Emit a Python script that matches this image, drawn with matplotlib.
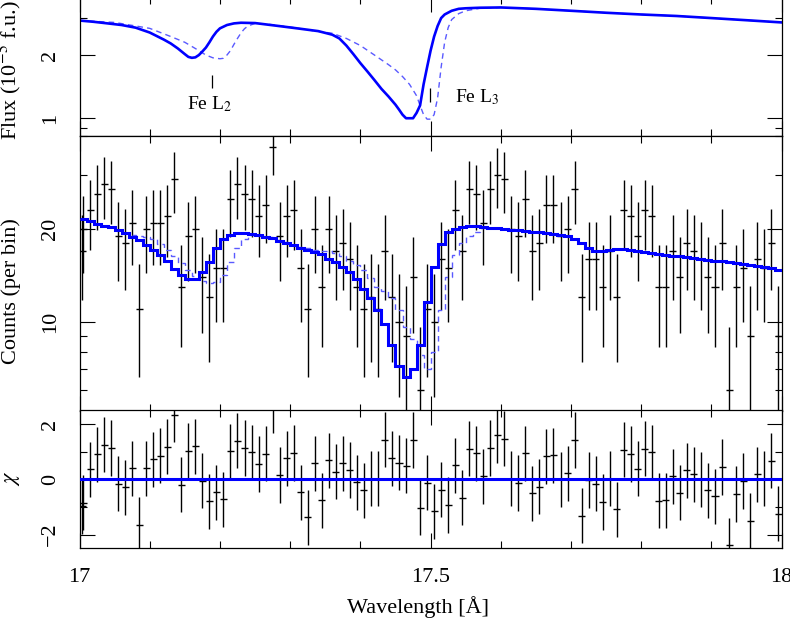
import numpy as np
import matplotlib.pyplot as plt
from matplotlib.ticker import FixedLocator, FixedFormatter, NullFormatter, MultipleLocator

plt.rcParams['font.family'] = ['Liberation Serif', 'DejaVu Serif']
plt.rcParams['mathtext.fontset'] = 'stix'
plt.rcParams['font.size'] = 16

# binning of the spectrum (0.01 A bins from 17 to 18 A)
bin_lo = 17.0
bin_w = 0.01
n_bins = 100

# observed counts per bin
counts = [20, 23, 26, 28, 27, 19, 18, 21, 11, 20,
          21, 21, 22, 29, 13, 19, 20, 14, 12, 15,
          15, 25, 28, 26, 25, 22, 24, 37, 19, 22,
          23, 15, 11, 20, 13, 20, 17, 18, 16, 13,
          11, 12, 11, 17, 12, 10, 9, 14, 6, 11,
          10, 16, 15, 23, 17, 27, 26, 21, 27, 30,
          29, 20, 19, 25, 17, 18, 24, 24, 19, 20,
          27, 12, 16, 16, 13, 17, 12, 23, 22, 19,
          23, 22, 13, 13, 17, 14, 18, 17, 16, 14,
          13, 18, 6, 13, 15, 9, 16, 15, 18, 9]
count_err = [5.6, 5.9, 6.2, 6.4, 6.3, 5.4, 5.3, 5.7, 4.4, 5.6,
             5.7, 5.7, 5.8, 6.5, 4.7, 5.4, 5.6, 4.8, 4.6, 5.0,
             5.0, 6.1, 6.4, 6.2, 6.1, 5.8, 6.0, 7.1, 5.4, 5.8,
             5.9, 5.0, 4.4, 5.6, 4.7, 5.6, 5.2, 5.3, 5.1, 4.7,
             4.4, 4.6, 4.4, 5.2, 4.6, 4.3, 4.1, 4.8, 3.6, 4.4,
             4.3, 5.1, 5.0, 5.9, 5.2, 6.3, 6.2, 5.7, 6.3, 6.6,
             6.5, 5.6, 5.4, 6.1, 5.2, 5.3, 6.0, 6.0, 5.4, 5.6,
             6.3, 4.6, 5.1, 5.1, 4.7, 5.2, 4.6, 5.9, 5.8, 5.4,
             5.9, 5.8, 4.7, 4.7, 5.2, 4.8, 5.3, 5.2, 5.1, 4.8,
             4.7, 5.3, 3.6, 4.7, 5.0, 4.1, 5.1, 5.0, 5.3, 4.1]
# second data set overlapping the first bin
extra_lam = [17.004]
extra_counts = [17]
extra_err = [5.2]

# folded models (counts per bin)
model_fit = [21.5, 21.2, 20.8, 20.5, 20.3, 19.9, 19.4, 18.9, 18.4, 17.8,
             17.1, 16.5, 15.7, 14.8, 14.2, 13.8, 13.8, 14.5, 15.6, 17.3,
             18.5, 19.2, 19.4, 19.4, 19.3, 19.1, 18.9, 18.7, 18.3, 18.0,
             17.7, 17.4, 17.1, 16.9, 16.6, 16.0, 15.6, 15.1, 14.5, 13.8,
             12.8, 11.9, 10.9, 9.8, 8.4, 7.2, 6.6, 7.0, 8.4, 11.6,
             15.1, 17.9, 19.5, 20.0, 20.3, 20.4, 20.4, 20.3, 20.2, 20.1,
             20.0, 19.9, 19.8, 19.7, 19.6, 19.5, 19.4, 19.3, 19.2, 19.0,
             18.5, 18.0, 17.3, 16.95, 16.95, 17.1, 17.2, 17.2, 17.1, 17.0,
             16.8, 16.7, 16.6, 16.5, 16.4, 16.3, 16.2, 16.1, 16.0, 15.9,
             15.8, 15.7, 15.6, 15.5, 15.4, 15.3, 15.2, 15.1, 14.9, 14.7]
model_alt = [21.5, 21.2, 20.8, 20.5, 20.3, 19.9, 19.4, 19.2, 19.0, 18.9,
             18.5, 17.9, 17.1, 16.3, 15.5, 14.7, 14.1, 13.6, 13.4, 13.5,
             14.2, 15.6, 17.3, 18.6, 19.2, 19.2, 19.0, 18.8, 18.4, 18.1,
             17.8, 17.5, 17.3, 17.1, 17.0, 17.0, 16.7, 16.4, 15.8, 15.3,
             14.7, 13.9, 13.0, 12.6, 11.9, 10.9, 9.6, 8.8, 7.8, 7.0,
             8.0, 10.9, 14.0, 16.5, 18.0, 19.0, 19.5, 20.2, 20.2, 20.1,
             20.0, 19.9, 19.8, 19.7, 19.6, 19.5, 19.4, 19.3, 19.2, 19.0,
             18.5, 18.0, 17.3, 16.95, 16.95, 17.1, 17.2, 17.2, 17.1, 17.0,
             16.8, 16.7, 16.6, 16.5, 16.4, 16.3, 16.2, 16.1, 16.0, 15.9,
             15.8, 15.7, 15.6, 15.5, 15.4, 15.3, 15.2, 15.1, 14.9, 14.7]

# residuals
chi = [-0.85, 0.36, 0.91, 1.26, 1.14, -0.16, -0.28, 0.40, -1.64, 0.40,
       0.73, 0.86, 1.18, 2.35, -0.20, 1.03, 1.20, -0.04, -0.79, -0.46,
       -0.72, 1.02, 1.41, 1.14, 0.99, 0.56, 0.93, 2.70, 0.16, 0.76,
       0.96, -0.47, -1.38, 0.59, -0.75, 0.69, 0.28, 0.59, 0.34, -0.10,
       -0.39, 0.03, 0.03, 1.44, 0.76, 0.61, 0.50, 1.43, -1.03, -0.12,
       -1.16, -0.37, -0.93, 0.52, -0.66, 1.11, 0.95, 0.12, 1.14, 1.61,
       1.48, 0.03, -0.13, 0.95, -0.50, -0.27, 0.84, 0.87, 0.01, 0.23,
       1.43, -1.31, -0.02, -0.16, -0.82, 0.03, -1.08, 1.08, 0.92, 0.38,
       1.12, 0.98, -0.78, -0.76, 0.12, -0.48, 0.33, 0.18, 0.00, -0.40,
       -0.62, 0.45, -2.39, -0.53, -0.06, -1.51, 0.18, 0.02, 0.67, -1.25]
extra_chi = [-0.98]
chi_err = 1.0

# unfolded model flux (1e-5 f.u.)
flux_lam = [17.00, 17.02, 17.04, 17.06, 17.08, 17.10, 17.12, 17.13, 17.14, 17.15,
            17.155, 17.16, 17.165, 17.17, 17.175, 17.18, 17.185, 17.19, 17.195, 17.20,
            17.21, 17.22, 17.23, 17.25, 17.28, 17.31, 17.34, 17.36, 17.37, 17.38,
            17.39, 17.40, 17.41, 17.42, 17.43, 17.44, 17.45, 17.455, 17.46, 17.465,
            17.47, 17.475, 17.48, 17.485, 17.49, 17.495, 17.50, 17.505, 17.51, 17.515,
            17.52, 17.53, 17.54, 17.55, 17.57, 17.60, 17.65, 17.70, 17.75, 17.80,
            17.85, 17.90, 17.95, 18.00]
flux_fit = [2.92, 2.88, 2.83, 2.78, 2.70, 2.56, 2.37, 2.27, 2.15, 2.02,
            1.96, 1.94, 1.95, 2.00, 2.08, 2.17, 2.30, 2.45, 2.58, 2.68,
            2.78, 2.83, 2.85, 2.84, 2.76, 2.68, 2.60, 2.50, 2.40, 2.22,
            2.02, 1.83, 1.67, 1.52, 1.38, 1.27, 1.16, 1.10, 1.04, 1.00,
            1.00, 1.00, 1.06, 1.15, 1.45, 1.75, 2.10, 2.45, 2.75, 3.00,
            3.12, 3.25, 3.32, 3.34, 3.36, 3.37, 3.32, 3.25, 3.18, 3.12,
            3.07, 3.00, 2.93, 2.86]
flux_alt_lam = [17.00, 17.05, 17.10, 17.13, 17.15, 17.17, 17.18, 17.19, 17.20, 17.205,
                17.21, 17.215, 17.22, 17.225, 17.23, 17.235, 17.24, 17.25, 17.27, 17.30,
                17.33, 17.36, 17.38, 17.40, 17.42, 17.44, 17.45, 17.46, 17.47, 17.48,
                17.485, 17.49, 17.495, 17.50, 17.505, 17.51, 17.515, 17.52, 17.525, 17.53,
                17.54, 17.55, 17.57, 17.60]
flux_alt = [2.92, 2.86, 2.68, 2.45, 2.30, 2.10, 2.00, 1.94, 1.92, 1.93,
            2.00, 2.10, 2.25, 2.40, 2.55, 2.67, 2.75, 2.83, 2.80, 2.72,
            2.62, 2.54, 2.40, 2.22, 2.00, 1.80, 1.70, 1.58, 1.45, 1.28,
            1.15, 1.04, 0.99, 0.99, 1.04, 1.25, 1.75, 2.30, 2.70, 2.95,
            3.15, 3.25, 3.34, 3.37]

edge_names = ['Fe L$_2$', 'Fe L$_3$']
edge_lam = [17.188, 17.499]

edges = bin_lo + bin_w * np.arange(n_bins + 1)
lam = edges[:-1] + bin_w / 2

fig = plt.figure(figsize=(7.9, 6.22), dpi=100)
L, W = 79.5 / 790, 702.2 / 790
ax_top = fig.add_axes([L, 1 - 136 / 622, W, 139 / 622])
ax_mid = fig.add_axes([L, 1 - 410.5 / 622, W, 274.5 / 622])
ax_chi = fig.add_axes([L, 1 - 548.3 / 622, W, 137.8 / 622])

blue = '#0000ff'
light = '#5a5aff'

# flux panel
i_join = flux_lam.index(17.65)
ax_top.plot(flux_alt_lam + flux_lam[i_join:], flux_alt + flux_fit[i_join:],
            color=light, lw=1.0, ls=(0, (4, 3)))
ax_top.plot(flux_lam, flux_fit, color=blue, lw=1.9)
ax_top.set_yscale('log')
ax_top.set_ylim(0.823, 3.78)
ax_top.yaxis.set_major_locator(FixedLocator([1, 2]))
ax_top.yaxis.set_major_formatter(FixedFormatter(['1', '2']))
ax_top.yaxis.set_minor_locator(FixedLocator([0.9, 3]))
ax_top.yaxis.set_minor_formatter(NullFormatter())
tr = ax_top.get_xaxis_transform()
ax_top.vlines(edge_lam[0], 0.345, 0.439, color='black', lw=0.9, transform=tr)
ax_top.vlines(edge_lam[1], 0.245, 0.345, color='black', lw=0.9, transform=tr)
ax_top.text(edge_lam[0] - 0.003, 0.23, edge_names[0], transform=tr, ha='center', va='center', fontsize=14)
ax_top.text(edge_lam[1] + 0.036, 0.28, edge_names[1], transform=tr, ha='left', va='center', fontsize=14)

# counts panel
ax_mid.errorbar(lam, counts, xerr=bin_w / 2, yerr=count_err, fmt='none',
                ecolor='black', elinewidth=1.0, capsize=0, zorder=2)
ax_mid.errorbar(extra_lam, extra_counts, xerr=bin_w / 2, yerr=extra_err, fmt='none',
                ecolor='black', elinewidth=1.0, capsize=0, zorder=2)
ax_mid.stairs(model_alt, edges, color=light, lw=1.0, ls=(0, (4, 3)), baseline=None, zorder=3)
ax_mid.stairs(model_fit, edges, color=blue, lw=2.2, baseline=None, zorder=4)
ax_mid.set_yscale('log')
ax_mid.set_ylim(5.15, 40.1)
ax_mid.yaxis.set_major_locator(FixedLocator([10, 20]))
ax_mid.yaxis.set_major_formatter(FixedFormatter(['10', '20']))
ax_mid.yaxis.set_minor_locator(FixedLocator([6, 7, 8, 9, 30, 40]))
ax_mid.yaxis.set_minor_formatter(NullFormatter())

# residual panel
ax_chi.errorbar(lam, chi, xerr=bin_w / 2, yerr=chi_err, fmt='none',
                ecolor='black', elinewidth=1.0, capsize=0, zorder=2)
ax_chi.errorbar(extra_lam, extra_chi, xerr=bin_w / 2, yerr=chi_err, fmt='none',
                ecolor='black', elinewidth=1.0, capsize=0, zorder=2)
ax_chi.axhline(0, color=blue, lw=2.2, zorder=4)
ax_chi.set_ylim(-2.5, 2.5)
ax_chi.yaxis.set_major_locator(FixedLocator([-2, 0, 2]))
ax_chi.yaxis.set_major_formatter(FixedFormatter(['\u22122', '0', '2']))
ax_chi.yaxis.set_minor_locator(FixedLocator([-1, 1]))

for ax in (ax_top, ax_mid, ax_chi):
    ax.set_xlim(17, 18)
    ax.xaxis.set_major_locator(MultipleLocator(0.5))
    ax.xaxis.set_minor_locator(MultipleLocator(0.1))
    ax.tick_params(which='both', direction='in', top=True, right=True, width=0.8)
    ax.tick_params(which='major', length=11, pad=14)
    ax.tick_params(which='minor', length=5)
    ax.tick_params(axis='y', labelrotation=90)
    for lab in ax.get_yticklabels():
        lab.set_va('center')
    for s in ax.spines.values():
        s.set_linewidth(0.9)
    if ax is not ax_chi:
        ax.tick_params(axis='x', labelbottom=False)

ax_chi.xaxis.set_major_formatter(FixedFormatter(['17', '17.5', '18']))
ax_chi.xaxis.set_major_locator(FixedLocator([17, 17.5, 18]))

fig.text(10 / 790, 1 - 70 / 622, 'Flux (10$^{-5}$ f.u.)', rotation=90, ha='center', va='center')
fig.text(11 / 790, 1 - 291 / 622, 'Counts (per bin)', rotation=90, ha='center', va='center')
fig.text(13 / 790, 1 - 478 / 622, '$\\chi$', rotation=90, ha='center', va='center')
fig.text(418 / 790, 1 - 607 / 622, 'Wavelength [\u00c5]', ha='center', va='center')

fig.savefig('out.png', dpi=100)
